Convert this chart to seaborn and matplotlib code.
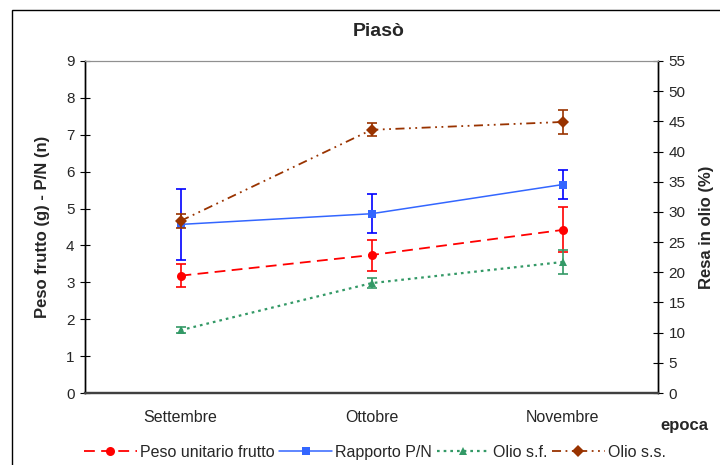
import matplotlib
matplotlib.use("Agg")
import matplotlib.pyplot as plt
from matplotlib.patches import Rectangle
import numpy as np
import pandas as pd
import seaborn as sns

# Harvest periods
months = ["Settembre", "Ottobre", "Novembre"]

# Left axis series: fruit weight (g) and pulp/stone ratio
peso = [3.18, 3.74, 4.42]
peso_err = [0.31, 0.42, 0.61]
rapporto = [4.57, 4.86, 5.65]
rapporto_err = [0.96, 0.53, 0.39]

# Right axis series: oil yield (%) on fresh and dry matter
olio_sf = [10.4, 18.2, 21.7]
olio_sf_err = [0.5, 0.8, 2.0]
olio_ss = [28.5, 43.6, 44.9]
olio_ss_err = [1.2, 1.1, 2.0]

left_ticks = list(range(0, 10))
right_ticks = list(range(0, 60, 5))

sns.set_theme(style="white")
plt.rcParams["font.family"] = ["Liberation Sans", "DejaVu Sans"]

df = pd.DataFrame({
    "pos": np.arange(len(months)),
    "epoca": months,
    "peso": peso,
    "rapporto": rapporto,
    "olio_sf": olio_sf,
    "olio_ss": olio_ss,
})

fig = plt.figure(figsize=(7.2, 4.65), dpi=100)
W, H = 720, 465
ax = fig.add_axes([85 / W, 1 - 393 / H, (658 - 85) / W, (393 - 61) / H])
ax2 = ax.twinx()

RED, BLUE, BLUE_ERR, GREEN, BROWN = "#FF0000", "#3366FF", "#0000FF", "#339966", "#993300"
cap = 3.6

# Primary axis
sns.lineplot(data=df, x="pos", y="peso", ax=ax, color=RED, marker="o", markersize=6.5,
             markeredgewidth=0, linewidth=1.3, linestyle=(0, (6, 3.5)),
             label="Peso unitario frutto", zorder=3)
ax.errorbar(df["pos"], peso, yerr=peso_err, fmt="none", ecolor=RED, elinewidth=1.2,
            capsize=cap, capthick=1.2, zorder=2)
sns.lineplot(data=df, x="pos", y="rapporto", ax=ax, color=BLUE, marker="s", markersize=6,
             markeredgewidth=0, linewidth=1.1, label="Rapporto P/N", zorder=3)
ax.errorbar(df["pos"], rapporto, yerr=rapporto_err, fmt="none", ecolor=BLUE_ERR,
            elinewidth=1.2, capsize=cap, capthick=1.2, zorder=2)

# Secondary axis
sns.lineplot(data=df, x="pos", y="olio_sf", ax=ax2, color=GREEN, marker="^", markersize=5.5,
             markeredgewidth=0, linewidth=1.6, linestyle=(0, (1.2, 1.8)),
             label="Olio s.f.", zorder=3)
ax2.errorbar(df["pos"], olio_sf, yerr=olio_sf_err, fmt="none", ecolor=GREEN, elinewidth=1.2,
             capsize=cap, capthick=1.2, zorder=2)
sns.lineplot(data=df, x="pos", y="olio_ss", ax=ax2, color=BROWN, marker="D", markersize=6,
             markeredgewidth=0, linewidth=1.3, linestyle=(0, (5, 2.5, 1, 2.5, 1, 2.5)),
             label="Olio s.s.", zorder=3)
ax2.errorbar(df["pos"], olio_ss, yerr=olio_ss_err, fmt="none", ecolor=BROWN, elinewidth=1.2,
             capsize=cap, capthick=1.2, zorder=2)

for a in (ax, ax2):
    if a.get_legend() is not None:
        a.get_legend().remove()
    a.set_xlim(-0.5, 2.5)
    a.set_xlabel("")
    a.set_ylabel("")
    a.grid(False)
    a.set_facecolor("none")

ax.set_ylim(0, 9)
ax.set_yticks(left_ticks)
ax2.set_ylim(0, 55)
ax2.set_yticks(right_ticks)

# Category axis: ticks between categories, labels centred
ax.set_xticks([-0.5, 0.5, 1.5, 2.5])
ax.set_xticklabels([])
ax.set_xticks(df["pos"], minor=True)
ax.set_xticklabels(months, minor=True, fontsize=11.5)
ax.tick_params(axis="x", which="major", direction="out", length=4, width=0.8, color="#404040")
ax.tick_params(axis="x", which="minor", length=0, pad=12)
ax2.tick_params(axis="x", which="both", length=0, labelbottom=False)

ax.tick_params(axis="y", direction="inout", length=7, width=0.8, color="black",
               labelsize=11, pad=4, left=True, right=False)
ax2.tick_params(axis="y", direction="inout", length=7, width=0.8, color="black",
                labelsize=11, pad=4, right=True, left=False)

for a in (ax, ax2):
    for side in ("left", "right"):
        a.spines[side].set_color("black")
        a.spines[side].set_linewidth(1.0)
    a.spines["top"].set_color("#909090")
    a.spines["top"].set_linewidth(0.8)
    a.spines["bottom"].set_color("#404040")
    a.spines["bottom"].set_linewidth(1.6)

# Titles and axis labels
fig.text(379 / W, 1 - 32 / H, "Piasò", ha="center", va="center", fontsize=14,
         fontweight="bold")
fig.text(43 / W, 1 - 227 / H, "Peso frutto (g) - P/N (n)", ha="center", va="center",
         rotation=90, fontsize=12, fontweight="bold")
fig.text(707 / W, 1 - 227 / H, "Resa in olio (%)", ha="center", va="center",
         rotation=90, fontsize=12, fontweight="bold")
fig.text(684 / W, 1 - 425 / H, "epoca", ha="center", va="center", fontsize=12,
         fontweight="bold")

# Legend along the bottom
handles = ax.get_lines()[:1] + [l for l in ax.get_lines() if l.get_label() == "Rapporto P/N"] \
    + [l for l in ax2.get_lines() if l.get_label() in ("Olio s.f.", "Olio s.s.")]
handles = [h for h in handles if not h.get_label().startswith("_")]
fig.legend(handles=handles, labels=[h.get_label() for h in handles], loc="center",
           bbox_to_anchor=(375 / W, 1 - 452 / H), ncol=4, frameon=False, fontsize=11.5,
           handlelength=3.3, handletextpad=0.2, columnspacing=0.3, borderaxespad=0)

# Chart area border
fig.patches.append(Rectangle((12 / W, -0.1), 1.2, 1 - 10 / H + 0.1, transform=fig.transFigure,
                             fill=False, edgecolor="black", linewidth=1.0))

fig.savefig("out.png", dpi=100)
